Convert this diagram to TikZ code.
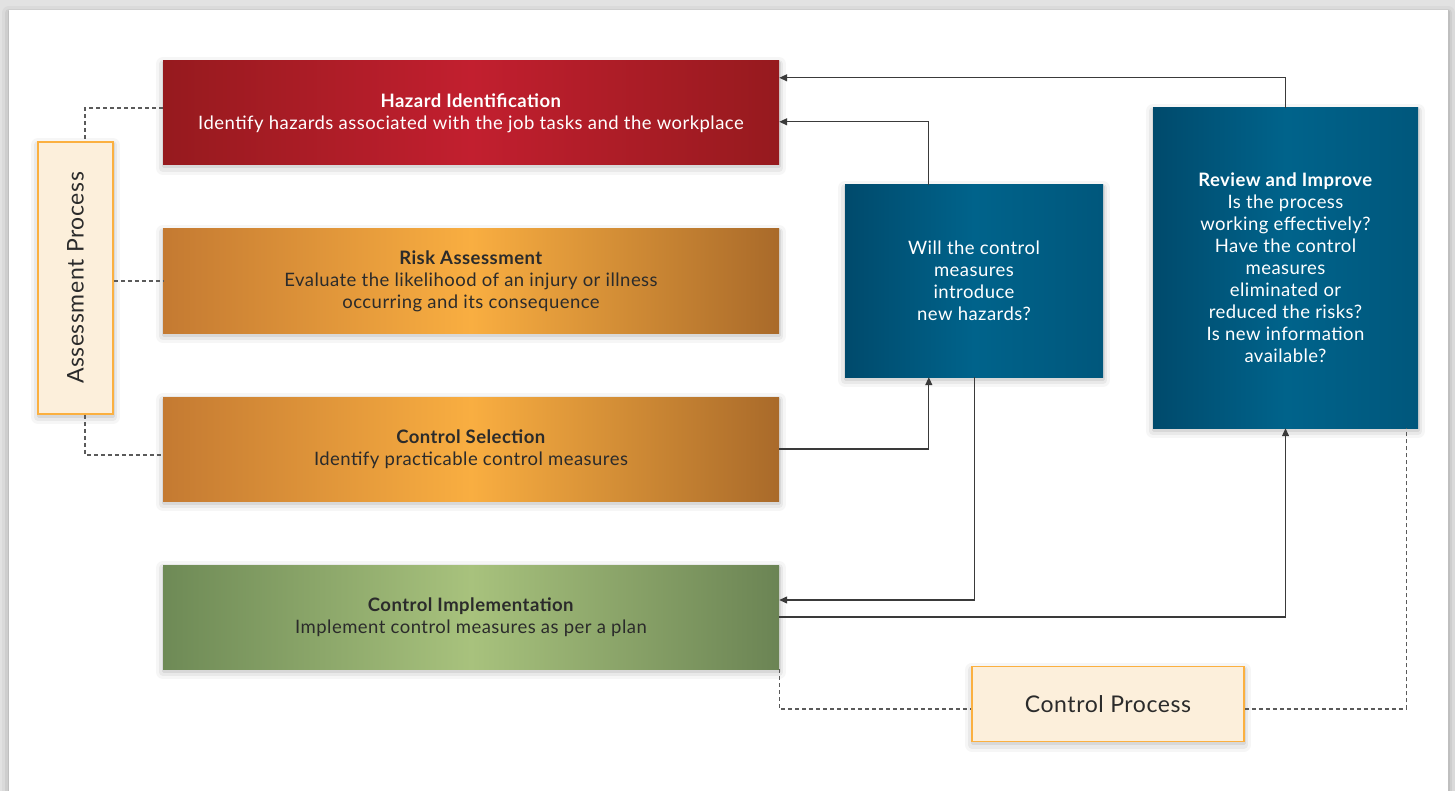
\documentclass[tikz,border=0pt]{standalone}
\usepackage{fontspec}
\setmainfont{Lato}[LetterSpace=2.5]
\usetikzlibrary{arrows.meta,calc}
\definecolor{hazdark}{HTML}{961A1E}
\definecolor{hazlight}{HTML}{C21F2F}
\definecolor{ambleft}{HTML}{C47A32}
\definecolor{ambright}{HTML}{A96A2A}
\definecolor{amblight}{HTML}{F9AE41}
\definecolor{leafleft}{HTML}{6E8A56}
\definecolor{leafright}{HTML}{6B8454}
\definecolor{leaflight}{HTML}{A8C27D}
\definecolor{oceandark}{HTML}{004A6C}
\definecolor{oceanlight}{HTML}{00638B}
\definecolor{oceanright}{HTML}{00577C}
\definecolor{creamfill}{HTML}{FCEFDB}
\definecolor{creamline}{HTML}{FBB040}
\definecolor{inkgray}{HTML}{2B2B2B}
\definecolor{linegray}{HTML}{3A3A3A}
\definecolor{dashgray}{HTML}{5A5A5A}
\definecolor{pagegray}{HTML}{E2E2E2}

\begin{document}
\begin{tikzpicture}[
  x=1pt,y=-1pt,
  softshadow/.style={
    preaction={draw=black,draw opacity=0.035,line width=14pt,line join=round,transform canvas={yshift=-3pt}},
    preaction={draw=black,draw opacity=0.05,line width=8pt,line join=round,transform canvas={yshift=-3pt}},
    preaction={draw=black,draw opacity=0.07,line width=3pt,line join=round,transform canvas={yshift=-2pt}}},
  stepbox/.style={rectangle,inner sep=0pt,minimum width=616pt,minimum height=104pt,align=center,
    font=\fontsize{18.5}{22}\selectfont,softshadow},
  hazardbox/.style={stepbox,left color=hazdark,right color=hazdark,middle color=hazlight,text=white},
  amberbox/.style={stepbox,left color=ambleft,right color=ambright,middle color=amblight,text=inkgray},
  leafbox/.style={stepbox,left color=leafleft,right color=leafright,middle color=leaflight,text=inkgray},
  querybox/.style={rectangle,inner sep=0pt,align=center,text=white,font=\fontsize{18.5}{22}\selectfont,
    left color=oceandark,right color=oceanright,middle color=oceanlight,softshadow},
  tagbox/.style={rectangle,inner sep=0pt,draw=creamline,line width=1.5pt,fill=creamfill,text=inkgray,
    font=\fontsize{23}{27}\selectfont,softshadow},
  flow/.style={-{Triangle[length=8pt,width=7pt]},line width=1.2pt,draw=linegray},
  link/.style={dash pattern=on 4pt off 3pt,line width=1.1pt,draw=dashgray}
]
\useasboundingbox (0,0) rectangle (1455,791);
\fill[pagegray] (0,0) rectangle (1455,791);
\path[fill=white,softshadow] (9,10) rectangle (1448,800);

\node[hazardbox] (hazard) at (471,113) {\textbf{Hazard Identification}\\Identify hazards associated with the job tasks and the workplace};
\node[amberbox] (risk) at (471,281) {\textbf{Risk Assessment}\\Evaluate the likelihood of an injury or illness\\occurring and its consequence};
\node[amberbox] (select) at (471,449) {\textbf{Control Selection}\\Identify practicable control measures};
\node[leafbox] (implement) at (471,617) {\textbf{Control Implementation}\\Implement control measures as per a plan};
\node[tagbox,minimum width=75pt,minimum height=272pt] (assess) at (75.5,278) {\rotatebox{90}{Assessment Process}};
\node[querybox,minimum width=258pt,minimum height=192pt] (newhaz) at (974,281) {Will the control\\measures\\introduce\\new hazards?};
\node[querybox,minimum width=265pt,minimum height=320pt] (review) at (1285.5,268) {\textbf{Review and Improve}\\Is the process\\working effectively?\\Have the control\\measures\\eliminated or\\reduced the risks?\\Is new information\\available?};
\node[tagbox,minimum width=272pt,minimum height=75pt] (ctrlproc) at (1108,704) {Control Process};

% feedback loop
\draw[flow] (review.north) |- ([yshift=-17pt]hazard.north east);
\draw[flow] ([xshift=84pt]newhaz.north west) |- ([yshift=-61pt]hazard.north east);
\draw[flow] (select.east) -| ([xshift=84pt]newhaz.south west);
\draw[flow] ([xshift=130pt]newhaz.south west) |- ([yshift=17pt]implement.east);
\draw[flow] (implement.east) -| (review.south);

% grouping
\draw[link] ([yshift=5pt]hazard.west) -| ([xshift=9.5pt]assess.north);
\draw[link] (assess.east |- risk.west) -- (risk.west);
\draw[link] ([xshift=9.5pt]assess.south) |- ([yshift=-6pt]select.west);
\draw[link] (implement.south east) |- ([yshift=-5pt]ctrlproc.west);
\draw[link] ([yshift=-5pt]ctrlproc.east) -| ([xshift=-12pt]review.south east);
\end{tikzpicture}
\end{document}
